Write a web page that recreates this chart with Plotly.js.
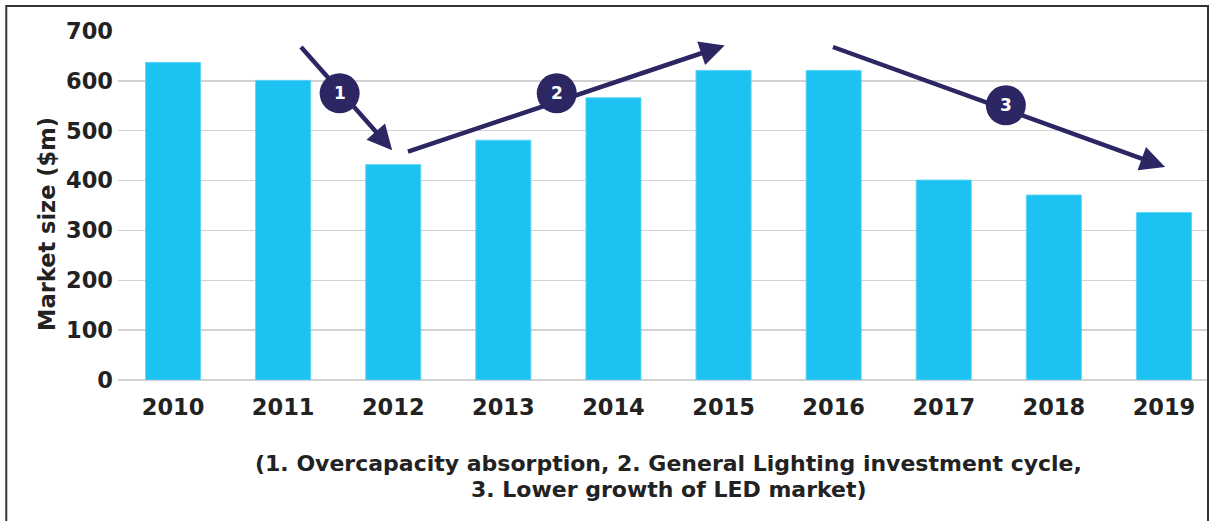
<!DOCTYPE html>
<html>
<head>
<meta charset="utf-8">
<script src="https://cdn.plot.ly/plotly-3.0.1.min.js"></script>
<style>
  html, body { margin: 0; padding: 0; background: #fff; }
  #chart { width: 1215px; height: 521px; }
</style>
</head>
<body>
<div id="chart"></div>
<script>
// Data
const years = ['2010', '2011', '2012', '2013', '2014', '2015', '2016', '2017', '2018', '2019'];
const marketSize = [637, 601, 432, 481, 566, 621, 621, 401, 371, 336];
const yTicks = [0, 100, 200, 300, 400, 500, 600, 700];

// Trend arrows (phase labels): start, end in data units (category index, $m)
const phaseLabels = ['1', '2', '3'];
const arrowStartX = [1.15, 2.12, 5.98];
const arrowStartY = [671, 457, 669];
const arrowEndX = [1.99, 5.01, 9.01];
const arrowEndY = [461, 671, 427];
const badgeX = [1.513, 3.485, 7.564];
const badgeY = [575, 575, 551];

const subtitleLines = [
  '(1. Overcapacity absorption, 2. General Lighting investment cycle,',
  '3. Lower growth of LED market)'
];

const navy = '#2c2762';
const font = 'DejaVu Sans, Verdana, sans-serif';

const trace = {
  type: 'bar',
  x: years.map((_, i) => i),
  y: marketSize,
  marker: { color: '#1cc2f2', line: { color: '#5fd4f6', width: 1 } },
  hoverinfo: 'x+y'
};

const annotations = [];
const shapes = [];

for (let i = 0; i < phaseLabels.length; i++) {
  annotations.push({
    x: arrowEndX[i], y: arrowEndY[i], xref: 'x', yref: 'y',
    ax: arrowStartX[i], ay: arrowStartY[i], axref: 'x', ayref: 'y',
    showarrow: true, arrowhead: 2, arrowsize: 1.1, arrowwidth: 4.5,
    arrowcolor: navy, text: ''
  });
  shapes.push({
    type: 'circle', xref: 'x', yref: 'y',
    xsizemode: 'pixel', ysizemode: 'pixel',
    xanchor: badgeX[i], yanchor: badgeY[i],
    x0: -20, x1: 20, y0: -20, y1: 20,
    fillcolor: navy, line: { width: 0 }, layer: 'above'
  });
}
for (let i = 0; i < phaseLabels.length; i++) {
  annotations.push({
    x: badgeX[i], y: badgeY[i], xref: 'x', yref: 'y',
    text: '<b>' + phaseLabels[i] + '</b>', showarrow: false,
    font: { family: font, size: 17, color: '#ffffff' }
  });
}

// Y axis title
annotations.push({
  xref: 'paper', yref: 'paper', x: -0.079, y: 0.447,
  text: '<b>Market size ($m)</b>', textangle: -90, showarrow: false,
  font: { family: font, size: 22.5, color: '#222' }
});

// Subtitle
const subY = [-0.238, -0.313];
subtitleLines.forEach((line, i) => {
  annotations.push({
    xref: 'paper', yref: 'paper', x: 0.5055, y: subY[i],
    xanchor: 'center', yanchor: 'middle', align: 'center',
    text: '<b>' + line + '</b>', showarrow: false,
    font: { family: font, size: 22, color: '#222' }
  });
});

// Frame
shapes.push({
  type: 'rect', xref: 'paper', yref: 'paper',
  x0: -0.1025, x1: 1.0, y0: -0.6, y1: 1.0716,
  line: { color: '#333', width: 2 }, fillcolor: 'rgba(0,0,0,0)', layer: 'above'
});

const layout = {
  width: 1215, height: 521,
  margin: { l: 118, r: 7, t: 31, b: 141 },
  paper_bgcolor: '#fff', plot_bgcolor: '#fff',
  showlegend: false,
  bargap: 0.5,
  font: { family: font, color: '#222' },
  xaxis: {
    range: [-0.5, 9.4],
    tickmode: 'array', tickvals: years.map((_, i) => i), ticktext: years.map(y => '<b>' + y + '</b>'),
    tickfont: { family: font, size: 22.5, color: '#222' },
    showgrid: false, zeroline: false, showline: false, ticks: '',
    ticklabelstandoff: 11
  },
  yaxis: {
    range: [0, 700],
    tickmode: 'array', tickvals: yTicks, ticktext: yTicks.map(v => '<b>' + v + '</b>'),
    tickfont: { family: font, size: 22.5, color: '#222' },
    showgrid: true, gridcolor: '#d2d2d2', gridwidth: 1.5,
    zeroline: true, zerolinecolor: '#d2d2d2', zerolinewidth: 1.5,
    showline: false, ticks: '', ticklabelstandoff: 4
  },
  annotations: annotations,
  shapes: shapes
};

Plotly.newPlot('chart', [trace], layout, { displayModeBar: false, staticPlot: true });
</script>
</body>
</html>
